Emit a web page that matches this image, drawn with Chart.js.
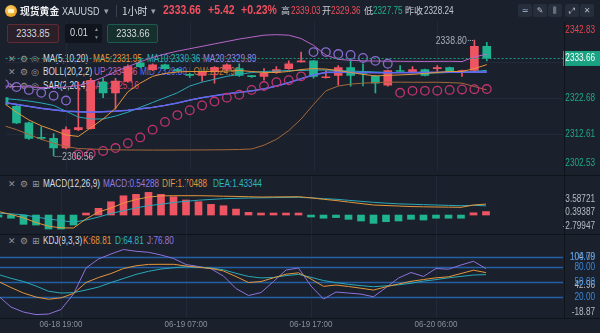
<!DOCTYPE html>
<html><head><meta charset="utf-8">
<script src="https://cdn.jsdelivr.net/npm/chart.js@4"></script>
<style>
html,body{margin:0;padding:0;background:#1a202c;width:600px;height:333px;overflow:hidden;}
#wrap{position:relative;width:600px;height:333px;font-family:"Liberation Sans",sans-serif;}
.t{position:absolute;white-space:nowrap;font-size:10px;line-height:12px;color:#d8dbe0;transform:scaleX(0.82);transform-origin:0 50%;}
.ic{position:absolute;white-space:nowrap;font-family:"DejaVu Sans",sans-serif;font-size:9px;line-height:12px;color:#8e949e;}
.cjk{position:absolute;white-space:nowrap;font-family:"Noto Sans CJK SC",sans-serif;line-height:12px;}
canvas{position:absolute;left:0;z-index:2;}
.lg{z-index:1;}
.top{z-index:3;}
.sep{position:absolute;background:#0f131a;z-index:4;}
.box{position:absolute;height:19px;top:24px;border-radius:2px;box-sizing:border-box;font-size:11px;line-height:17px;color:#d5d8de;text-align:center;z-index:3;}
.box span.n{display:inline-block;transform:scaleX(0.84);}
.ib{position:absolute;top:4px;height:13px;width:14px;border-radius:2px;background:#262d3b;color:#b5bac3;font-family:"DejaVu Sans",sans-serif;font-size:8px;line-height:13px;text-align:center;z-index:3;}
</style>
</head><body>
<div id="wrap">
  <!-- header -->
  <div class="top" style="position:absolute;left:5px;top:5px;width:12px;height:12px;border-radius:6px;background:radial-gradient(circle at 40% 35%,#ffd166,#e0900f);"></div>
  <div class="top" style="position:absolute;left:8px;top:9px;width:6px;height:4px;background:#fff3c4;border-radius:1px;"></div>
  <div class="cjk top" style="left:20px;top:4.5px;font-size:9.8px;font-weight:bold;color:#eef0f3;">现货黄金</div>
  <div class="t top" style="left:62px;top:5px;font-size:11px;color:#cfd3da;">XAUUSD</div>
  <div class="ic top" style="left:104px;top:5px;color:#9aa0aa;">▾</div>
  <div class="top" style="position:absolute;left:116px;top:5px;width:1px;height:12px;background:#3a4252;"></div>
  <div class="cjk top" style="left:122px;top:4.5px;font-size:10px;color:#d5d8de;">1小时</div>
  <div class="ic top" style="left:151px;top:5px;color:#9aa0aa;">▾</div>
  <div class="t top" style="left:163px;top:4px;font-size:12.8px;font-weight:bold;color:#f0505e;">2333.66</div>
  <div class="t top" style="left:208px;top:4px;font-size:12.8px;font-weight:bold;color:#f0505e;">+5.42</div>
  <div class="t top" style="left:241px;top:4px;font-size:12.8px;font-weight:bold;color:#f0505e;">+0.23%</div>
  <div class="cjk top" style="left:281px;top:5px;font-size:9px;color:#c9cdd4;">高</div>
  <div class="t top" style="left:291px;top:5px;font-size:10px;color:#f0505e;">2339.03</div>
  <div class="cjk top" style="left:322px;top:5px;font-size:9px;color:#c9cdd4;">开</div>
  <div class="t top" style="left:331px;top:5px;font-size:10px;color:#f0505e;">2329.36</div>
  <div class="cjk top" style="left:364px;top:5px;font-size:9px;color:#c9cdd4;">低</div>
  <div class="t top" style="left:373px;top:5px;font-size:10px;color:#22b08c;">2327.75</div>
  <div class="cjk top" style="left:405px;top:5px;font-size:9px;color:#c9cdd4;">昨收</div>
  <div class="t top" style="left:424px;top:5px;font-size:10px;color:#c2c6ce;">2328.24</div>
  <div class="ib" style="left:518px;">≃</div>
  <div class="ib" style="left:533px;">✎</div>
  <div class="ib" style="left:548px;">⫼</div>
  <div class="ib" style="left:565px;">⤢</div>
  <div class="ib" style="left:580px;">✕</div>
  <!-- input boxes -->
  <div class="box" style="left:7px;width:52px;border:1px solid #5e2b35;background:#2b1f29;"><span class="n">2333.85</span></div>
  <div class="box" style="left:65px;width:37px;background:#10141c;text-align:left;padding-left:5px;"><span class="n" style="transform-origin:0 50%;">0.01</span><span style="position:absolute;right:3px;top:1px;font-size:5px;line-height:8px;color:#8a909a;">▲<br>▼</span></div>
  <div class="box" style="left:107px;width:51px;border:1px solid #1d5a51;background:#16302e;"><span class="n">2333.66</span></div>

  <!-- main legend -->
  <div class="ic lg" style="left:8px;top:53px;">✕</div><div class="ic lg" style="left:20px;top:53px;">⚙</div><div class="ic lg" style="left:31px;top:53px;">◎</div>
  <div class="t lg" style="left:43px;top:53px;">MA(5,10,20)</div>
  <div class="t lg" style="left:93px;top:53px;color:#e5963c;">MA5:2331.95</div>
  <div class="t lg" style="left:147px;top:53px;color:#2db5c2;">MA10:2330.36</div>
  <div class="t lg" style="left:203px;top:53px;color:#9a87e6;">MA20:2329.89</div>
  <div class="ic lg" style="left:8px;top:66px;">✕</div><div class="ic lg" style="left:20px;top:66px;">⚙</div><div class="ic lg" style="left:31px;top:66px;">◎</div>
  <div class="t lg" style="left:43px;top:66px;">BOLL(20,2,2)</div>
  <div class="t lg" style="left:94px;top:66px;color:#c160b6;">UP:2334.86</div>
  <div class="t lg" style="left:140px;top:66px;color:#5b6cf5;">MID:2329.89</div>
  <div class="t lg" style="left:189px;top:66px;color:#c27c3a;">LOW:2324.92</div>
  <div class="ic lg" style="left:8px;top:80px;">✕</div><div class="ic lg" style="left:20px;top:80px;">⚙</div><div class="ic lg" style="left:31px;top:80px;">◎</div>
  <div class="t lg" style="left:43px;top:80px;">SAR(2,20,4)</div>
  <div class="t lg" style="left:90px;top:80px;color:#d04477;">SAR:2325.16</div>

  <!-- macd legend -->
  <div class="ic lg" style="left:8px;top:177.5px;">✕</div><div class="ic lg" style="left:20px;top:177.5px;">⚙</div><div class="ic lg" style="left:32px;top:177.5px;">⊞</div>
  <div class="t lg" style="left:43px;top:177.5px;">MACD(12,26,9)</div>
  <div class="t lg" style="left:103px;top:177.5px;color:#9479e0;">MACD:0.54288</div>
  <div class="t lg" style="left:162px;top:177.5px;color:#e5963c;">DIF:1.70488</div>
  <div class="t lg" style="left:213px;top:177.5px;color:#2db5c2;">DEA:1.43344</div>
  <!-- kdj legend -->
  <div class="ic lg" style="left:8px;top:235px;">✕</div><div class="ic lg" style="left:20px;top:235px;">⚙</div><div class="ic lg" style="left:32px;top:235px;">⊞</div>
  <div class="t lg" style="left:43px;top:235px;">KDJ(9,3,3)</div>
  <div class="t lg" style="left:83px;top:235px;color:#e5963c;">K:68.81</div>
  <div class="t lg" style="left:115px;top:235px;color:#2db5c2;">D:64.81</div>
  <div class="t lg" style="left:147px;top:235px;color:#9479e0;">J:76.80</div>

  <canvas id="main" width="600" height="176" style="top:0;"></canvas>
  <canvas id="macd" width="600" height="58" style="top:176px;"></canvas>
  <canvas id="kdj" width="600" height="99" style="top:234px;"></canvas>

  <div class="sep" style="left:0;top:174.5px;width:600px;height:1.5px;"></div>
  <div class="sep" style="left:0;top:233.5px;width:600px;height:1.5px;"></div>
  <div class="sep" style="left:0;top:317.5px;width:600px;height:1.5px;"></div>
  <div class="sep" style="left:563.5px;top:22px;width:1px;height:296px;"></div>
</div>
<script>
// ---- data (one entry per hourly candle) ----
const openP  = [2322.76,2320.33,2315.75,2311.71,2311.44,2308.75,2313.87,2314.14,2327.07,2324.11,2327.34,2332.46,2330.58,2331.92,2330.60,2329.23,2328.96,2330.04,2330.60,2330.85,2328.80,2328.69,2329.77,2330.85,2332.73,2333.00,2328.30,2328.96,2331.12,2329.77,2328.69,2326.26,2330.31,2329.77,2330.58,2330.85,2331.12,2330.04,2330.31,2337.05];
const highP  = [2323.10,2320.60,2315.95,2314.68,2312.79,2314.68,2327.07,2328.15,2328.15,2328.15,2331.90,2333.54,2332.20,2332.10,2330.90,2329.50,2330.10,2331.40,2332.20,2332.19,2329.00,2330.85,2331.38,2333.00,2335.43,2333.10,2330.31,2331.65,2333.00,2332.20,2328.96,2330.40,2331.65,2331.38,2330.70,2331.65,2331.30,2330.40,2338.80,2338.12];
const lowP   = [2320.60,2315.50,2311.17,2311.17,2306.56,2308.50,2313.60,2314.00,2322.76,2319.53,2327.00,2331.10,2330.30,2330.60,2330.00,2328.40,2327.34,2326.80,2330.30,2328.70,2328.40,2327.61,2329.50,2330.60,2332.60,2328.15,2328.15,2326.26,2325.99,2326.00,2324.11,2325.99,2329.90,2329.60,2328.80,2330.04,2329.90,2328.69,2330.04,2333.00];
const closeP = [2320.87,2315.75,2311.44,2311.44,2308.75,2313.87,2314.41,2327.61,2324.11,2327.34,2331.38,2331.38,2331.92,2330.85,2330.30,2328.96,2329.90,2331.12,2331.90,2328.96,2328.60,2329.50,2330.58,2332.19,2333.00,2328.69,2328.50,2331.12,2328.96,2329.50,2326.80,2330.31,2330.04,2330.58,2328.96,2331.12,2330.04,2330.31,2337.05,2333.66];
const ma5    = [2321.14,2318.72,2316.56,2314.94,2313.73,2312.38,2311.98,2314.41,2316.83,2319.80,2324.38,2326.80,2328.69,2329.50,2329.90,2330.04,2330.04,2330.04,2330.17,2330.31,2330.04,2329.77,2329.77,2330.04,2330.58,2330.84,2330.71,2330.31,2329.77,2329.23,2328.82,2328.96,2329.09,2329.23,2329.50,2329.77,2330.04,2330.04,2330.84,2331.95];
const ma10   = [2322.49,2322.22,2321.82,2321.28,2320.60,2318.99,2317.37,2316.83,2316.83,2317.64,2318.72,2320.06,2321.41,2322.76,2324.11,2325.99,2327.07,2327.88,2328.69,2329.23,2329.77,2330.04,2330.17,2330.31,2330.31,2330.44,2330.44,2330.31,2330.17,2330.04,2329.90,2329.77,2329.77,2329.77,2329.63,2329.63,2329.77,2329.77,2330.04,2330.36];
const ma20   = [2321.41,2320.87,2320.33,2319.80,2319.39,2318.99,2318.85,2318.72,2318.85,2318.99,2319.26,2319.66,2320.06,2320.60,2321.28,2322.09,2322.76,2323.30,2323.84,2324.24,2324.65,2325.19,2325.99,2326.94,2328.02,2329.09,2329.77,2329.84,2329.80,2329.77,2329.72,2329.70,2329.72,2329.75,2329.77,2329.80,2329.82,2329.84,2329.88,2329.89];
const bollUp = [2325.99,2325.86,2325.72,2325.59,2325.59,2325.72,2326.13,2327.07,2328.42,2330.04,2331.38,2332.73,2333.94,2334.89,2335.70,2336.37,2337.04,2337.72,2338.39,2339.06,2339.60,2340.14,2340.28,2340.14,2339.20,2337.31,2334.62,2333.41,2333.14,2333.00,2332.95,2332.90,2332.87,2332.85,2332.83,2332.85,2332.87,2332.80,2334.08,2334.86];
const bollMid = ma20;
const bollLow = [2314.94,2313.87,2312.52,2311.17,2310.09,2309.15,2308.61,2308.48,2308.34,2308.25,2308.21,2308.20,2308.18,2308.18,2308.20,2308.21,2308.22,2308.25,2308.28,2308.35,2308.48,2309.55,2311.17,2313.60,2316.83,2320.87,2324.65,2325.99,2326.53,2326.80,2326.94,2327.07,2327.07,2327.05,2327.03,2327.05,2326.94,2326.80,2325.86,2324.92];
const sar    = [2326.53,2325.72,2324.92,2324.11,2323.30,2321.95,2307.00,2307.20,2307.94,2308.75,2310.09,2311.71,2313.87,2316.02,2317.91,2319.26,2320.60,2321.68,2322.76,2323.57,2324.92,2325.99,2327.07,2327.61,2328.69,2335.43,2335.43,2334.89,2334.62,2333.81,2333.00,2332.19,2324.11,2324.65,2324.65,2324.70,2324.92,2325.05,2325.12,2325.16];
const macdHist = [-0.3,-0.5,-1.45,-1.56,-2.18,-2.18,-1.56,0.15,1.04,2.07,3.0,3.22,3.53,3.22,2.85,2.34,2.07,1.66,1.45,0.93,0.42,0.2,0.2,0.2,0.15,-0.1,-0.5,-0.4,-0.67,-0.93,-1.3,-1.04,-0.93,-0.67,-0.78,-0.5,-0.5,-0.5,0.35,0.54288];
const dif    = [0.55,0.08,-0.44,-1.17,-1.74,-1.99,-2.02,-0.62,0.47,1.09,1.87,2.41,2.80,2.98,3.01,3.01,3.01,2.98,2.93,2.90,2.85,2.80,2.82,2.83,2.85,2.68,2.45,2.26,2.02,1.79,1.56,1.48,1.40,1.32,1.28,1.25,1.23,1.20,1.56,1.70488];
const dea    = [0.28,0.19,0.03,-0.30,-0.62,-0.86,-1.11,-0.78,-0.31,0.25,0.67,1.11,1.46,1.68,1.95,2.13,2.31,2.43,2.54,2.60,2.65,2.68,2.71,2.74,2.76,2.68,2.55,2.46,2.29,2.13,1.98,1.85,1.74,1.68,1.62,1.56,1.50,1.45,1.51,1.43344];
const kdjK   = [51,39,28,20,15.6,18.4,27,49,59,67,77,82.4,85.2,85.4,85.4,82,79.4,77.2,72,61,49,51,58.4,65.6,68.4,56,41.4,44,41,37.6,34,40.4,46,51.4,55,58.4,60.4,67,73.6,68.81];
const kdjD   = [65,57.4,51,42,31.6,28,28.8,34,40,49,57,65.2,71.4,76,78.4,80.4,79.6,78,74.4,67.4,61.2,58.2,59,62.8,65.2,59.4,53,48.8,45.4,42.8,40.6,42.4,44.4,47.6,51.8,54.8,58.4,61.2,64,64.81];
const kdjJ   = [22,0,-10,-15,-14,-5,26,78,96,106,115,111.4,109.4,104,97,85,81,76.4,62,37,23,29,51,74,78,42,16,30,28,25.8,20.6,39,58,69,61.2,77,75.6,84,91.4,76.8];
const timeLabels = ['06-18 19:00','06-19 07:00','06-19 17:00','06-20 06:00'];
const timeIdx = [5,15,25,35];
const priceTicks = [2342.83,2332.76,2322.68,2312.61,2302.53];
const macdTicks = [3.58721,0.39387,-2.79947];
const kdjLevels = [100,80,50,20];
const kdjTicks = [104.79,42.96,-18.87];
const prevClose = 2328.24;

// ---- rendering ----
const RED='#ef5462', GREEN='#1fb38f';
const FONT='"Liberation Sans",sans-serif';
const SX=0.82;
const idx = closeP.map((_,k)=>k);
const candleCol = closeP.map((c,k)=> c>=openP[k]?RED:GREEN);
const xScale = {type:'linear',min:0.12,max:45.16,display:false,offset:false};
const base = {responsive:false,animation:false,devicePixelRatio:1,events:[],
  plugins:{legend:{display:false},tooltip:{enabled:false}}};
function ln(arr,color,w,order,extra){return Object.assign({type:'line',data:idx.map(k=>({x:k,y:arr[k]})),borderColor:color,borderWidth:w,pointRadius:0,tension:0,order:order},extra||{});}
function vgrid(chart,y0,y1){const {ctx,scales:{x}}=chart;ctx.save();ctx.strokeStyle='#222937';ctx.lineWidth=1;
  timeIdx.forEach(k=>{const px=Math.round(x.getPixelForValue(k))+0.5;ctx.beginPath();ctx.moveTo(px,y0);ctx.lineTo(px,y1);ctx.stroke();});ctx.restore();}
function sText(ctx,text,x,y,align){ctx.save();ctx.translate(x,y);ctx.scale(SX,1);ctx.textAlign=align;ctx.textBaseline='middle';ctx.fillText(text,0,0);ctx.restore();}
function rlabel(ctx,text,py,color,a,pt,pb){const yy=Math.min(Math.max(py,a.top+pt),a.bottom-pb);
  ctx.fillStyle=color;ctx.font='10px '+FONT;sText(ctx,text,595,yy,'right');}

const mainDeco={id:'mainDeco',
  beforeDatasetsDraw(chart){const {ctx,chartArea:a,scales:{y}}=chart;vgrid(chart,22,a.bottom);
    ctx.save();ctx.strokeStyle='#222937';ctx.lineWidth=1;
    priceTicks.slice(1,-1).forEach(v=>{const py=Math.round(y.getPixelForValue(v))+0.5;ctx.beginPath();ctx.moveTo(a.left,py);ctx.lineTo(a.right,py);ctx.stroke();});ctx.restore();},
  afterDraw(chart){const {ctx,chartArea:a,scales:{x,y}}=chart;ctx.save();
    const last=closeP.length-1, cy=y.getPixelForValue(closeP[last]);
    ctx.strokeStyle='#1d9a7e';ctx.setLineDash([2,2]);ctx.lineWidth=1;ctx.beginPath();ctx.moveTo(a.left,Math.round(cy)+0.5);ctx.lineTo(a.right,Math.round(cy)+0.5);ctx.stroke();ctx.setLineDash([]);
    priceTicks.forEach(v=>rlabel(ctx,v.toFixed(2),y.getPixelForValue(v),v>prevClose?'#e8434f':'#1faa88',a,4.5,7.3));
    ctx.fillStyle='#1aa383';ctx.fillRect(563,cy-7.5,37,15);
    ctx.fillStyle='#ffffff';ctx.font='10px '+FONT;sText(ctx,closeP[last].toFixed(2),595,cy,'right');
    // extreme annotations
    let hi=0,lo=0;highP.forEach((v,k)=>{if(v>highP[hi])hi=k;});lowP.forEach((v,k)=>{if(v<lowP[lo])lo=k;});
    ctx.font='10.5px '+FONT;ctx.fillStyle='#a9aeb8';ctx.strokeStyle='#a9aeb8';ctx.setLineDash([1,1]);
    const hx=x.getPixelForValue(hi), hy=y.getPixelForValue(highP[hi]);
    ctx.beginPath();ctx.moveTo(hx-1.5,Math.round(hy)+0.5);ctx.lineTo(hx-7,Math.round(hy)+0.5);ctx.stroke();
    sText(ctx,highP[hi].toFixed(2),hx-7.5,hy+1,'right');
    const lx=x.getPixelForValue(lo), ly=y.getPixelForValue(lowP[lo]);
    ctx.beginPath();ctx.moveTo(lx+1,Math.round(ly)+0.5);ctx.lineTo(lx+8,Math.round(ly)+0.5);ctx.stroke();
    sText(ctx,lowP[lo].toFixed(2),lx+8.5,ly+1.5,'left');
    ctx.restore();}};

new Chart(document.getElementById('main'),{type:'bar',
  data:{datasets:[
    {type:'bar',data:idx.map(k=>({x:k,y:[lowP[k],highP[k]]})),backgroundColor:candleCol,barThickness:1,grouped:false,order:10},
    {type:'bar',data:idx.map(k=>({x:k,y:[openP[k],closeP[k]]})),backgroundColor:candleCol,barThickness:8,minBarLength:1,grouped:false,order:9},
    ln(bollUp,'#b867c9',1,6), ln(bollLow,'#a3683a',1,6), ln(ma10,'#2aa9b9',1,5), ln(ma20,'#9a87e6',1.2,5), ln(bollMid,'#5f66f0',1.4,4), ln(ma5,'#e5963c',1,3),
    {type:'line',data:idx.map(k=>({x:k,y:sar[k]})),showLine:false,pointRadius:4.3,pointBorderWidth:1.3,pointBackgroundColor:'rgba(0,0,0,0)',
      pointBorderColor:sar.map((v,k)=>v>closeP[k]?'#8a6bd0':'#c2356f'),order:1}
  ]},
  options:Object.assign({},base,{layout:{padding:{top:25.5,bottom:1,left:0,right:37}},
    scales:{x:xScale,y:{type:'linear',min:Math.min(...priceTicks),max:Math.max(...priceTicks),display:false}}}),
  plugins:[mainDeco]});

const macdDeco={id:'macdDeco',
  beforeDatasetsDraw(chart){vgrid(chart,0,58);},
  afterDraw(chart){const {ctx,chartArea:a,scales:{y}}=chart;ctx.save();
    macdTicks.forEach(v=>rlabel(ctx,v.toFixed(5),y.getPixelForValue(v),'#b8bcc4',a,7.3,6.3));ctx.restore();}};
new Chart(document.getElementById('macd'),{type:'bar',
  data:{datasets:[
    {type:'bar',data:idx.map(k=>({x:k,y:macdHist[k]})),backgroundColor:macdHist.map(v=>v>=0?RED:GREEN),barThickness:7,minBarLength:2,grouped:false,order:5,clip:false},
    ln(dea,'#2aa9b9',1,2,{clip:false}), ln(dif,'#e5963c',1,1,{clip:false})
  ]},
  options:Object.assign({},base,{layout:{padding:{top:16,bottom:1,left:0,right:37}},
    scales:{x:xScale,y:{type:'linear',min:Math.min(...macdTicks),max:Math.max(...macdTicks),display:false}}}),
  plugins:[macdDeco]});

const kdjDeco={id:'kdjDeco',
  beforeDatasetsDraw(chart){const {ctx,chartArea:a,scales:{y}}=chart;vgrid(chart,0,84);
    ctx.save();ctx.strokeStyle='#245fa5';ctx.lineWidth=1.5;
    kdjLevels.forEach(v=>{const py=Math.round(y.getPixelForValue(v))+0.5;ctx.beginPath();ctx.moveTo(a.left,py);ctx.lineTo(a.right,py);ctx.stroke();});ctx.restore();},
  afterDraw(chart){const {ctx,chartArea:a,scales:{x,y}}=chart;ctx.save();
    kdjTicks.forEach(v=>rlabel(ctx,v.toFixed(2),y.getPixelForValue(v),'#b8bcc4',a,2.4,4.2));
    kdjLevels.forEach(v=>rlabel(ctx,v.toFixed(2),y.getPixelForValue(v),'#3b88da',a,2.4,4.2));
    ctx.fillStyle='#8a909b';ctx.font='9.8px '+FONT;
    timeIdx.forEach((k,i)=>sText(ctx,timeLabels[i],x.getPixelForValue(k),90,'center'));
    ctx.restore();}};
new Chart(document.getElementById('kdj'),{type:'line',
  data:{datasets:[ln(kdjJ,'#8f72dc',1,3,{clip:false}), ln(kdjD,'#2aa9b9',1,2,{clip:false}), ln(kdjK,'#e5963c',1,1,{clip:false})]},
  options:Object.assign({},base,{layout:{padding:{top:20.6,bottom:16.5,left:0,right:37}},
    scales:{x:xScale,y:{type:'linear',min:Math.min(...kdjTicks),max:Math.max(...kdjTicks),display:false}}}),
  plugins:[kdjDeco]});
</script>
</body></html>
